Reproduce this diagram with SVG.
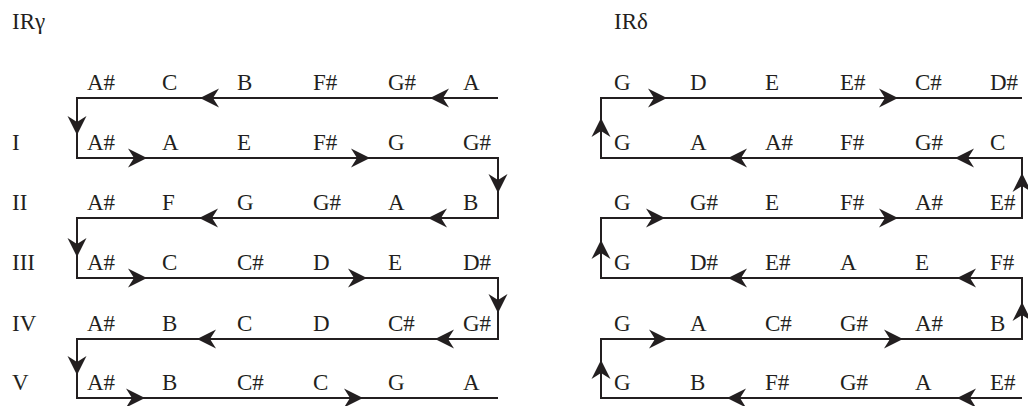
<svg xmlns="http://www.w3.org/2000/svg" xmlns:xlink="http://www.w3.org/1999/xlink" width="1028" height="406" viewBox="0 0 1028 406">
<style>
text{font-family:"Liberation Serif","Times New Roman",serif;font-size:23px;fill:#231f20}
.ln{fill:none;stroke:#231f20;stroke-width:2}
.ah{fill:#231f20}
</style>
<defs>
<path id="ah" class="ah" d="M0,0 L-19,-9.5 L-13,0 L-19,9.5 Z"/>
</defs>
<rect width="1028" height="406" fill="#fff"/>
<g id="connectors">
<path class="ln" d="M498,98 H77 V158 H498 V218 H77 V278 H498 V339 H77 V398 H498"/>
<path class="ln" d="M1022,98 H601 V158 H1022 V218 H601 V278 H1022 V339 H601 V398 H1022"/>
<use href="#ah" transform="translate(200,98) rotate(180)"/>
<use href="#ah" transform="translate(430,98) rotate(180)"/>
<use href="#ah" transform="translate(77,135) rotate(90)"/>
<use href="#ah" transform="translate(147,158)"/>
<use href="#ah" transform="translate(370,158)"/>
<use href="#ah" transform="translate(498,193) rotate(90)"/>
<use href="#ah" transform="translate(199,218) rotate(180)"/>
<use href="#ah" transform="translate(428,218) rotate(180)"/>
<use href="#ah" transform="translate(77,257) rotate(90)"/>
<use href="#ah" transform="translate(147,278)"/>
<use href="#ah" transform="translate(367,278)"/>
<use href="#ah" transform="translate(498,313) rotate(90)"/>
<use href="#ah" transform="translate(197,339) rotate(180)"/>
<use href="#ah" transform="translate(435,339) rotate(180)"/>
<use href="#ah" transform="translate(77,375) rotate(90)"/>
<use href="#ah" transform="translate(145,398)"/>
<use href="#ah" transform="translate(363,398)"/>
<use href="#ah" transform="translate(667,98)"/>
<use href="#ah" transform="translate(898,98)"/>
<use href="#ah" transform="translate(601,118) rotate(-90)"/>
<use href="#ah" transform="translate(728,158) rotate(180)"/>
<use href="#ah" transform="translate(955,158) rotate(180)"/>
<use href="#ah" transform="translate(1022,173) rotate(-90)"/>
<use href="#ah" transform="translate(665,218)"/>
<use href="#ah" transform="translate(898,218)"/>
<use href="#ah" transform="translate(601,240) rotate(-90)"/>
<use href="#ah" transform="translate(728,278) rotate(180)"/>
<use href="#ah" transform="translate(957,278) rotate(180)"/>
<use href="#ah" transform="translate(1022,302) rotate(-90)"/>
<use href="#ah" transform="translate(668,339)"/>
<use href="#ah" transform="translate(903,339)"/>
<use href="#ah" transform="translate(601,360) rotate(-90)"/>
<use href="#ah" transform="translate(727,398) rotate(180)"/>
<use href="#ah" transform="translate(957,398) rotate(180)"/>
</g>
<g id="title-gamma"><text x="12" y="29">IRγ</text></g>
<g id="title-delta"><text x="614" y="29">IRδ</text></g>
<g id="row-labels">
<text x="12" y="149.5">I</text>
<text x="12" y="209.5">II</text>
<text x="12" y="269.5">III</text>
<text x="12" y="330.5">IV</text>
<text x="12" y="389.5">V</text>
</g>
<g id="gamma-row0"><text x="87" y="89.5">A#</text><text x="162" y="89.5">C</text><text x="237" y="89.5">B</text><text x="313" y="89.5">F#</text><text x="388" y="89.5">G#</text><text x="463" y="89.5">A</text></g>
<g id="gamma-row1"><text x="87" y="149.5">A#</text><text x="162" y="149.5">A</text><text x="237" y="149.5">E</text><text x="313" y="149.5">F#</text><text x="388" y="149.5">G</text><text x="463" y="149.5">G#</text></g>
<g id="gamma-row2"><text x="87" y="209.5">A#</text><text x="162" y="209.5">F</text><text x="237" y="209.5">G</text><text x="313" y="209.5">G#</text><text x="388" y="209.5">A</text><text x="463" y="209.5">B</text></g>
<g id="gamma-row3"><text x="87" y="269.5">A#</text><text x="162" y="269.5">C</text><text x="237" y="269.5">C#</text><text x="313" y="269.5">D</text><text x="388" y="269.5">E</text><text x="463" y="269.5">D#</text></g>
<g id="gamma-row4"><text x="87" y="330.5">A#</text><text x="162" y="330.5">B</text><text x="237" y="330.5">C</text><text x="313" y="330.5">D</text><text x="388" y="330.5">C#</text><text x="463" y="330.5">G#</text></g>
<g id="gamma-row5"><text x="87" y="389.5">A#</text><text x="162" y="389.5">B</text><text x="237" y="389.5">C#</text><text x="313" y="389.5">C</text><text x="388" y="389.5">G</text><text x="463" y="389.5">A</text></g>
<g id="delta-row0"><text x="614" y="89.5">G</text><text x="690" y="89.5">D</text><text x="765" y="89.5">E</text><text x="840" y="89.5">E#</text><text x="915" y="89.5">C#</text><text x="990" y="89.5">D#</text></g>
<g id="delta-row1"><text x="614" y="149.5">G</text><text x="690" y="149.5">A</text><text x="765" y="149.5">A#</text><text x="840" y="149.5">F#</text><text x="915" y="149.5">G#</text><text x="990" y="149.5">C</text></g>
<g id="delta-row2"><text x="614" y="209.5">G</text><text x="690" y="209.5">G#</text><text x="765" y="209.5">E</text><text x="840" y="209.5">F#</text><text x="915" y="209.5">A#</text><text x="990" y="209.5">E#</text></g>
<g id="delta-row3"><text x="614" y="269.5">G</text><text x="690" y="269.5">D#</text><text x="765" y="269.5">E#</text><text x="840" y="269.5">A</text><text x="915" y="269.5">E</text><text x="990" y="269.5">F#</text></g>
<g id="delta-row4"><text x="614" y="330.5">G</text><text x="690" y="330.5">A</text><text x="765" y="330.5">C#</text><text x="840" y="330.5">G#</text><text x="915" y="330.5">A#</text><text x="990" y="330.5">B</text></g>
<g id="delta-row5"><text x="614" y="389.5">G</text><text x="690" y="389.5">B</text><text x="765" y="389.5">F#</text><text x="840" y="389.5">G#</text><text x="915" y="389.5">A</text><text x="990" y="389.5">E#</text></g>
</svg>
